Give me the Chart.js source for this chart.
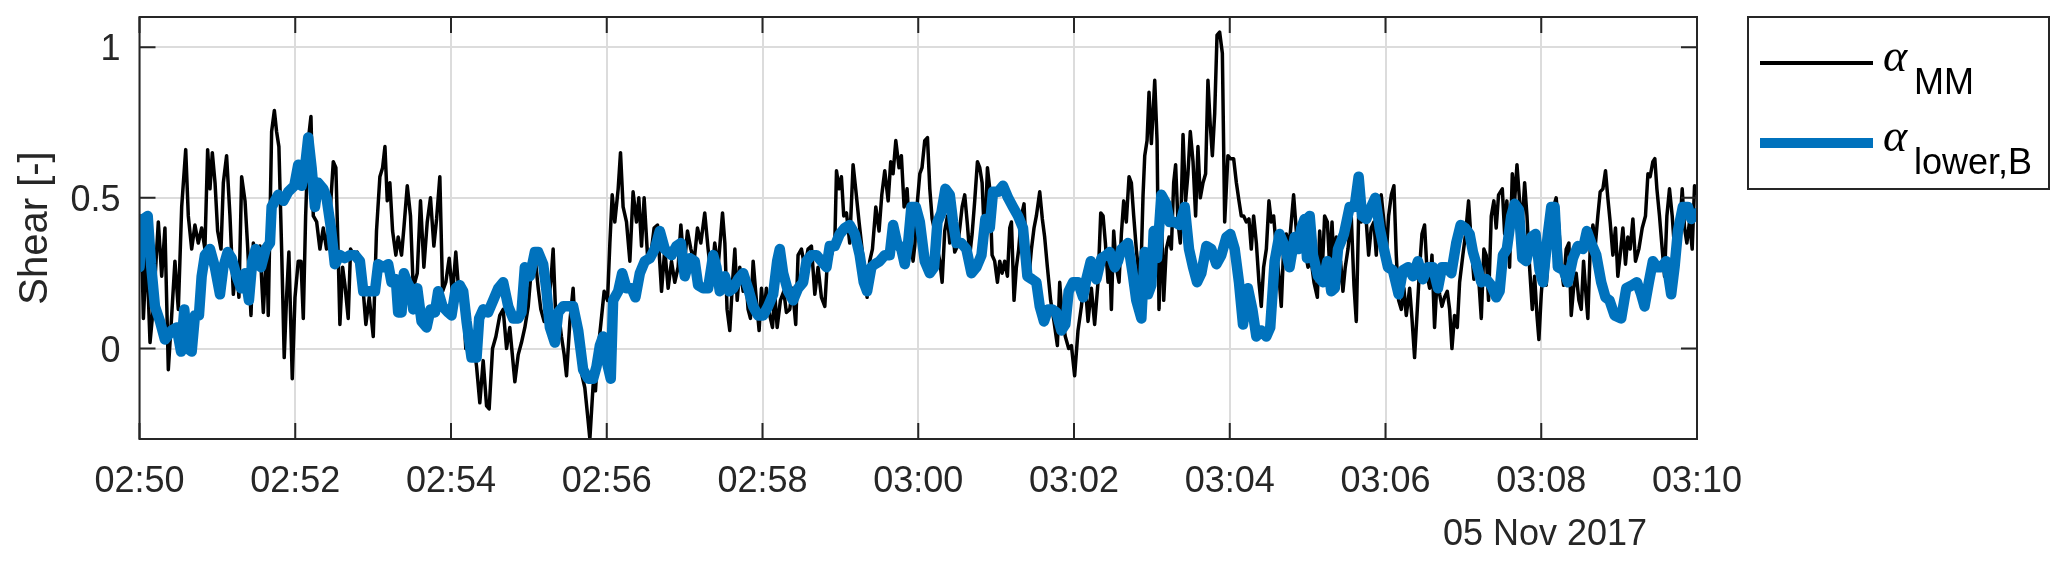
<!DOCTYPE html>
<html>
<head>
<meta charset="utf-8">
<script src="https://cdn.jsdelivr.net/npm/chart.js@4.4.1/dist/chart.umd.min.js"></script>
<style>
    html, body { margin: 0; padding: 0; background: #ffffff; }
    canvas { display: block; }
</style>
</head>
<body>
<canvas id="shearChart" width="2067" height="564"></canvas>
<script>
// time axis: seconds after 02:50:00 on 05 Nov 2017
const mmTime = [
    0, 1.2, 3.0, 5.5, 8.1, 10.7, 14.5, 17.1, 19.6, 22.2,
    24.8, 27.3, 29.9, 32.5, 35.6, 37.6, 40.2, 42.7, 45.3, 47.9,
    50.4, 52.5, 54.3, 56.1, 58.2, 60.2, 62.8, 64.6, 67.1, 69.7,
    72.3, 74.8, 76.6, 78.7, 81.3, 83.3, 85.9, 87.7, 90.2, 92.8,
    95.4, 98.0, 99.2, 101.8, 103.9, 105.6, 107.4, 109.5, 111.5, 113.3,
    115.1, 117.7, 119.8, 122.3, 124.4, 126.2, 128.0, 130.0, 132.1, 133.9,
    136.5, 139.0, 141.6, 144.1, 146.7, 149.3, 151.3, 153.1, 154.4, 156.5,
    158.3, 160.8, 162.6, 165.2, 167.8, 170.3, 172.4, 174.4, 177.0, 180.1,
    182.6, 185.2, 187.3, 189.1, 190.9, 192.9, 195.0, 197.5, 199.3, 201.9,
    203.7, 206.3, 208.8, 210.9, 214.0, 216.5, 219.1, 221.7, 224.2, 226.8,
    228.9, 231.4, 233.5, 236.0, 238.6, 241.2, 243.7, 246.3, 248.9, 251.4,
    254.0, 257.1, 259.7, 262.2, 264.8, 267.4, 269.4, 272.0, 274.6, 277.6,
    280.2, 282.8, 285.3, 289.2, 291.8, 294.3, 296.9, 299.5, 302.0, 304.6,
    307.2, 309.2, 311.8, 314.4, 316.9, 318.7, 320.5, 322.6, 325.1, 327.2,
    329.0, 331.6, 334.1, 335.4, 338.0, 340.5, 343.1, 345.2, 347.0, 349.5,
    351.3, 353.4, 355.4, 358.0, 360.6, 362.4, 364.2, 366.2, 368.8, 370.6,
    372.6, 375.2, 377.8, 380.3, 382.9, 384.7, 386.8, 388.8, 391.4, 393.9,
    396.5, 399.1, 402.2, 404.7, 407.3, 409.9, 412.4, 415.0, 417.1, 419.6,
    422.2, 424.8, 427.3, 429.9, 432.5, 435.5, 438.1, 440.7, 443.2, 445.8,
    449.2, 451.0, 452.7, 454.8, 456.9, 458.7, 460.5, 462.5, 465.1, 467.1,
    468.9, 470.7, 472.8, 475.3, 477.4, 479.2, 481.0, 483.0, 485.6, 487.7,
    489.5, 491.3, 493.8, 496.4, 498.4, 501.0, 503.1, 505.6, 507.4, 510.0,
    512.6, 515.1, 517.7, 520.3, 522.8, 525.4, 528.0, 530.5, 533.1, 535.7,
    537.0, 539.0, 540.8, 542.6, 544.7, 547.2, 549.8, 551.8, 554.4, 556.2,
    558.8, 560.6, 562.6, 564.7, 567.3, 569.8, 571.9, 574.2, 576.8, 578.8,
    580.6, 582.7, 585.2, 587.0, 589.1, 591.4, 593.4, 596.0, 597.3, 599.4,
    601.2, 602.9, 605.0, 607.1, 608.9, 610.7, 612.7, 614.8, 616.6, 618.4,
    620.4, 622.5, 624.3, 626.1, 628.1, 630.2, 632.0, 633.8, 635.8, 637.9,
    639.7, 641.5, 643.5, 645.6, 647.4, 649.2, 651.2, 653.3, 655.1, 656.9,
    658.9, 661.0, 662.8, 664.6, 666.6, 668.7, 670.5, 671.8, 673.8, 675.6,
    677.4, 679.5, 681.5, 683.3, 685.1, 687.2, 689.2, 691.0, 693.6, 695.6,
    697.4, 699.5, 702.0, 704.6, 707.2, 709.0, 710.8, 713.3, 715.9, 718.0,
    720.5, 723.1, 725.7, 728.2, 730.8, 733.4, 735.9, 738.5, 740.6, 742.4,
    744.2, 746.2, 747.5, 748.8, 750.6, 752.6, 754.7, 756.5, 758.3, 760.3,
    762.4, 764.2, 766.0, 768.0, 770.1, 771.9, 773.2, 774.5, 776.3, 777.8,
    779.6, 780.9, 782.2, 784.0, 785.5, 787.3, 789.1, 791.1, 793.2, 795.0,
    796.8, 798.3, 800.1, 801.9, 804.0, 806.0, 807.8, 809.6, 811.7, 813.7,
    815.5, 817.3, 819.4, 821.4, 823.2, 825.0, 826.6, 828.4, 830.2, 832.2,
    834.3, 836.1, 838.6, 840.4, 843.0, 845.1, 847.1, 848.9, 850.7, 852.8,
    854.8, 856.6, 858.4, 860.5, 862.5, 864.3, 866.1, 868.2, 870.2, 872.0,
    873.8, 875.9, 877.9, 879.7, 881.5, 883.6, 885.6, 887.4, 889.2, 891.3,
    893.3, 895.1, 896.9, 900.3, 902.8, 904.9, 907.5, 909.3, 911.1, 913.1,
    915.2, 917.0, 918.8, 920.3, 922.1, 923.4, 925.4, 927.2, 929.0, 931.1,
    933.6, 935.7, 937.5, 939.3, 941.3, 943.4, 945.2, 947.0, 949.0, 951.1,
    952.9, 954.7, 956.7, 958.8, 960.6, 962.4, 964.5, 966.5, 968.3, 970.1,
    972.2, 974.2, 976.0, 978.6, 980.4, 982.4, 984.5, 986.3, 988.1, 990.1,
    992.2, 994.0, 995.8, 997.8, 999.9, 1001.7, 1003.5, 1005.5, 1007.6, 1009.4,
    1011.2, 1013.2, 1015.3, 1017.1, 1019.6, 1021.7, 1024.0, 1026.1, 1028.1, 1029.9,
    1031.7, 1033.8, 1035.8, 1037.6, 1039.4, 1041.5, 1043.5, 1045.3, 1047.1, 1050.0,
    1051.8, 1053.5, 1055.6, 1057.7, 1059.5, 1061.3, 1063.3, 1065.4, 1067.2, 1069.0,
    1071.0, 1073.1, 1074.9, 1076.7, 1078.2, 1080.0, 1081.8, 1083.8, 1085.9, 1087.7,
    1089.5, 1091.5, 1093.6, 1095.4, 1097.2, 1099.2, 1101.3, 1103.1, 1104.9, 1106.9,
    1109.0, 1110.8, 1112.6, 1114.1, 1115.9, 1117.7, 1119.8, 1121.8, 1123.6, 1125.4,
    1127.5, 1129.5, 1131.3, 1133.1, 1135.2, 1137.2, 1139.0, 1140.8, 1142.9, 1144.9,
    1146.7, 1148.5, 1150.6, 1152.6, 1155.2, 1157.8, 1160.3, 1162.2, 1163.9, 1166.0,
    1167.5, 1169.1, 1171.1, 1173.2, 1175.0, 1176.8, 1178.8, 1180.9, 1182.7, 1184.5,
    1186.5, 1188.6, 1190.4, 1192.2, 1194.2, 1196.3, 1198.1, 1200.0
];
const mmShear = [
    0.27, 0.44, 0.10, 0.33, 0.02, 0.14, 0.42, 0.24, 0.40, -0.07,
    0.11, 0.29, 0.13, 0.47, 0.66, 0.44, 0.33, 0.41, 0.35, 0.40,
    0.33, 0.66, 0.53, 0.65, 0.55, 0.39, 0.33, 0.55, 0.64, 0.44,
    0.18, 0.28, 0.17, 0.57, 0.49, 0.34, 0.11, 0.35, 0.27, 0.34,
    0.12, 0.34, 0.11, 0.72, 0.79, 0.72, 0.67, 0.33, -0.03, 0.17,
    0.32, -0.10, 0.17, 0.29, 0.29, 0.10, 0.44, 0.69, 0.77, 0.44,
    0.42, 0.33, 0.40, 0.33, 0.44, 0.62, 0.60, 0.31, 0.08, 0.27,
    0.21, 0.10, 0.33, 0.31, 0.32, 0.23, 0.19, 0.08, 0.17, 0.04,
    0.39, 0.57, 0.60, 0.67, 0.49, 0.55, 0.39, 0.31, 0.37, 0.31,
    0.40, 0.54, 0.44, 0.20, 0.25, 0.49, 0.27, 0.42, 0.50, 0.34,
    0.43, 0.57, 0.19, 0.22, 0.30, 0.18, 0.32, 0.17, 0.20, 0.00,
    0.08, 0.03, -0.06, -0.18, -0.04, -0.19, -0.20, 0.00, 0.04, 0.11,
    0.13, 0.00, 0.07, -0.11, -0.02, 0.02, 0.07, 0.14, 0.27, 0.31,
    0.20, 0.13, 0.09, 0.13, 0.22, 0.33, 0.13, 0.13, 0.04, -0.02,
    -0.09, 0.09, 0.20, 0.09, 0.09, -0.08, -0.13, -0.22, -0.30, -0.12,
    -0.14, 0.00, 0.08, 0.19, 0.16, 0.35, 0.51, 0.42, 0.53, 0.65,
    0.47, 0.42, 0.29, 0.52, 0.42, 0.50, 0.34, 0.50, 0.31, 0.31,
    0.40, 0.41, 0.19, 0.33, 0.20, 0.29, 0.22, 0.27, 0.41, 0.27,
    0.39, 0.33, 0.29, 0.40, 0.35, 0.45, 0.33, 0.23, 0.35, 0.27,
    0.45, 0.35, 0.13, 0.06, 0.22, 0.33, 0.16, 0.27, 0.19, 0.24,
    0.13, 0.10, 0.29, 0.16, 0.06, 0.20, 0.11, 0.20, 0.11, 0.07,
    0.18, 0.07, 0.16, 0.19, 0.12, 0.13, 0.20, 0.08, 0.31, 0.33,
    0.27, 0.33, 0.34, 0.18, 0.27, 0.17, 0.14, 0.33, 0.31, 0.35,
    0.59, 0.53, 0.57, 0.44, 0.45, 0.35, 0.61, 0.53, 0.42, 0.35,
    0.24, 0.17, 0.29, 0.33, 0.47, 0.39, 0.51, 0.59, 0.49, 0.62,
    0.58, 0.69, 0.60, 0.64, 0.47, 0.53, 0.38, 0.29, 0.34, 0.49,
    0.58, 0.60, 0.69, 0.70, 0.53, 0.43, 0.39, 0.33, 0.29, 0.22,
    0.39, 0.44, 0.35, 0.42, 0.32, 0.34, 0.40, 0.47, 0.51, 0.41,
    0.31, 0.38, 0.49, 0.62, 0.60, 0.55, 0.35, 0.60, 0.53, 0.31,
    0.29, 0.22, 0.29, 0.25, 0.29, 0.24, 0.40, 0.42, 0.16, 0.27,
    0.33, 0.44, 0.48, 0.31, 0.23, 0.33, 0.40, 0.44, 0.52, 0.43,
    0.37, 0.27, 0.16, 0.09, 0.01, 0.22, 0.11, 0.04, 0.00, 0.01,
    -0.09, 0.06, 0.14, 0.24, 0.09, 0.20, 0.08, 0.22, 0.45, 0.44,
    0.35, 0.22, 0.31, 0.13, 0.39, 0.27, 0.22, 0.38, 0.49, 0.42,
    0.57, 0.55, 0.44, 0.33, 0.24, 0.31, 0.51, 0.64, 0.69, 0.85,
    0.68, 0.78, 0.89, 0.69, 0.13, 0.44, 0.16, 0.33, 0.37, 0.33,
    0.55, 0.61, 0.42, 0.35, 0.71, 0.49, 0.58, 0.72, 0.62, 0.44,
    0.67, 0.50, 0.55, 0.58, 0.89, 0.74, 0.64, 0.78, 1.04, 1.05,
    0.98, 0.42, 0.64, 0.63, 0.63, 0.55, 0.49, 0.44, 0.44, 0.42,
    0.43, 0.33, 0.44, 0.35, 0.22, 0.14, 0.27, 0.33, 0.49, 0.42,
    0.44, 0.33, 0.24, 0.14, 0.33, 0.38, 0.33, 0.42, 0.51, 0.39,
    0.33, 0.42, 0.35, 0.27, 0.29, 0.22, 0.17, 0.39, 0.24, 0.44,
    0.42, 0.27, 0.42, 0.27, 0.37, 0.20, 0.29, 0.19, 0.27, 0.33,
    0.44, 0.21, 0.09, 0.44, 0.42, 0.45, 0.42, 0.31, 0.40, 0.42,
    0.31, 0.49, 0.51, 0.42, 0.31, 0.44, 0.51, 0.54, 0.31, 0.16,
    0.13, 0.20, 0.11, 0.20, 0.10, -0.03, 0.13, 0.27, 0.38, 0.41,
    0.24, 0.20, 0.31, 0.07, 0.24, 0.18, 0.14, 0.17, 0.19, 0.13,
    0.00, 0.11, 0.07, 0.22, 0.31, 0.38, 0.49, 0.35, 0.23, 0.31,
    0.24, 0.10, 0.33, 0.31, 0.16, 0.44, 0.49, 0.40, 0.51, 0.53,
    0.38, 0.49, 0.27, 0.58, 0.49, 0.61, 0.49, 0.42, 0.55, 0.44,
    0.27, 0.13, 0.24, 0.11, 0.03, 0.18, 0.28, 0.21, 0.33, 0.38,
    0.47, 0.50, 0.40, 0.27, 0.21, 0.33, 0.35, 0.11, 0.20, 0.25,
    0.16, 0.13, 0.29, 0.20, 0.10, 0.33, 0.41, 0.35, 0.44, 0.52,
    0.53, 0.59, 0.50, 0.42, 0.31, 0.40, 0.24, 0.31, 0.40, 0.28,
    0.37, 0.33, 0.43, 0.29, 0.33, 0.40, 0.44, 0.58, 0.57, 0.62,
    0.63, 0.53, 0.44, 0.33, 0.24, 0.44, 0.53, 0.44, 0.33, 0.27,
    0.38, 0.53, 0.40, 0.35, 0.42, 0.33, 0.54, 0.51
];

const lowerTime = [
    0, 1.5, 3.0, 6.3, 8.9, 11.9, 15.8, 19.6, 24.8, 28.6,
    32.0, 34.5, 37.1, 40.2, 42.7, 45.8, 47.9, 50.4, 54.3, 58.1,
    62.0, 64.6, 67.9, 71.0, 74.8, 78.2, 81.3, 84.3, 86.9, 89.5,
    93.6, 97.2, 100.5, 101.8, 106.9, 110.8, 114.6, 119.3, 122.3, 124.9,
    128.0, 130.0, 132.6, 135.2, 137.7, 141.6, 144.1, 147.5, 150.5, 154.4,
    158.3, 162.1, 166.0, 169.8, 172.4, 176.2, 181.4, 183.9, 187.8, 191.6,
    194.2, 197.5, 199.3, 201.9, 203.7, 206.3, 208.8, 210.9, 214.0, 217.3,
    221.2, 224.2, 227.6, 230.1, 233.5, 237.8, 240.4, 243.7, 246.8, 249.4,
    252.0, 255.8, 259.7, 261.7, 264.8, 268.6, 272.5, 276.4, 280.2, 284.1,
    287.9, 291.8, 294.3, 296.9, 300.8, 304.6, 307.2, 311.0, 313.6, 316.2,
    320.0, 322.6, 326.4, 330.3, 334.1, 338.0, 341.8, 345.7, 349.5, 352.1,
    354.7, 357.2, 359.8, 363.1, 364.9, 368.8, 371.9, 375.2, 379.1, 382.1,
    385.5, 389.3, 393.2, 397.0, 400.9, 404.7, 409.9, 413.7, 417.1, 420.1,
    424.0, 427.8, 430.4, 434.3, 438.1, 442.0, 444.5, 447.1, 451.0, 454.3,
    457.4, 461.2, 465.1, 468.9, 472.8, 476.6, 480.5, 484.3, 488.2, 491.3,
    493.3, 495.9, 499.7, 503.6, 507.4, 511.3, 513.9, 517.7, 521.6, 525.4,
    529.3, 531.8, 535.7, 539.5, 543.4, 547.2, 551.1, 554.9, 558.0, 560.6,
    563.9, 566.5, 570.3, 574.2, 578.0, 580.6, 583.7, 587.0, 589.6, 592.2,
    594.7, 598.1, 601.2, 605.0, 608.9, 612.2, 614.8, 617.8, 620.9, 624.3,
    626.8, 629.4, 633.2, 637.1, 641.0, 644.8, 648.7, 651.7, 655.1, 657.6,
    661.5, 665.3, 669.2, 673.0, 676.9, 680.7, 684.1, 687.7, 691.0, 693.6,
    696.9, 700.0, 703.1, 706.4, 710.3, 713.3, 715.9, 719.3, 723.1, 727.0,
    729.5, 732.9, 737.2, 741.1, 744.9, 747.5, 751.4, 753.9, 756.5, 761.6,
    765.5, 768.0, 771.9, 774.5, 777.0, 779.6, 781.4, 784.0, 787.3, 791.1,
    793.7, 797.6, 801.4, 805.3, 808.6, 811.7, 814.8, 818.1, 822.0, 825.8,
    829.7, 833.5, 837.4, 840.4, 843.8, 847.1, 850.2, 854.0, 857.4, 860.5,
    864.3, 868.2, 871.2, 874.6, 878.4, 882.3, 886.1, 890.0, 892.6, 895.1,
    897.7, 899.5, 901.6, 904.1, 908.0, 911.8, 915.2, 918.2, 920.8, 923.4,
    928.0, 932.4, 936.2, 939.3, 941.9, 945.2, 949.0, 952.1, 955.5, 958.8,
    961.9, 965.7, 970.1, 973.4, 977.3, 981.1, 985.0, 988.8, 992.7, 996.5,
    1000.4, 1003.5, 1006.8, 1010.7, 1014.5, 1017.9, 1021.4, 1024.8, 1027.4, 1030.7,
    1033.8, 1037.6, 1041.5, 1045.3, 1047.9, 1050.5, 1053.5, 1056.9, 1059.5, 1062.8,
    1065.4, 1068.4, 1072.3, 1075.6, 1078.7, 1081.3, 1085.1, 1087.7, 1090.3, 1092.8,
    1097.2, 1100.5, 1104.4, 1108.2, 1112.1, 1115.2, 1118.5, 1122.4, 1126.2, 1129.5,
    1132.6, 1136.5, 1141.6, 1145.5, 1150.1, 1153.7, 1157.0, 1159.6, 1162.9, 1166.0,
    1169.1, 1172.4, 1176.3, 1180.1, 1182.7, 1185.3, 1189.1, 1193.0, 1195.6, 1200.0
];
const lowerShear = [
    0.27, 0.40, 0.43, 0.44, 0.28, 0.14, 0.09, 0.03, 0.06, 0.07,
    -0.01, 0.13, 0.00, -0.01, 0.11, 0.11, 0.24, 0.31, 0.33, 0.27,
    0.18, 0.27, 0.32, 0.30, 0.24, 0.20, 0.25, 0.16, 0.29, 0.33,
    0.27, 0.33, 0.35, 0.47, 0.51, 0.49, 0.52, 0.54, 0.61, 0.54,
    0.62, 0.70, 0.60, 0.47, 0.55, 0.53, 0.50, 0.40, 0.28, 0.31,
    0.30, 0.31, 0.31, 0.29, 0.19, 0.19, 0.19, 0.28, 0.27, 0.28,
    0.22, 0.23, 0.12, 0.12, 0.25, 0.22, 0.20, 0.13, 0.20, 0.09,
    0.07, 0.13, 0.12, 0.19, 0.14, 0.12, 0.11, 0.20, 0.21, 0.19,
    0.09, -0.03, -0.03, 0.10, 0.13, 0.12, 0.16, 0.20, 0.22, 0.14,
    0.10, 0.10, 0.12, 0.27, 0.24, 0.32, 0.32, 0.28, 0.19, 0.07,
    0.02, 0.12, 0.14, 0.14, 0.14, 0.06, -0.07, -0.10, -0.10, -0.06,
    0.01, 0.04, -0.04, -0.10, 0.16, 0.19, 0.25, 0.20, 0.20, 0.17,
    0.25, 0.29, 0.30, 0.33, 0.39, 0.33, 0.31, 0.34, 0.35, 0.24,
    0.30, 0.29, 0.21, 0.20, 0.20, 0.31, 0.27, 0.19, 0.24, 0.19,
    0.20, 0.23, 0.25, 0.20, 0.14, 0.11, 0.11, 0.14, 0.18, 0.29,
    0.33, 0.25, 0.19, 0.16, 0.20, 0.22, 0.29, 0.31, 0.31, 0.29,
    0.27, 0.34, 0.34, 0.38, 0.40, 0.41, 0.38, 0.31, 0.22, 0.19,
    0.27, 0.28, 0.29, 0.31, 0.31, 0.41, 0.35, 0.33, 0.28, 0.35,
    0.47, 0.47, 0.42, 0.29, 0.25, 0.27, 0.42, 0.45, 0.53, 0.51,
    0.42, 0.35, 0.35, 0.33, 0.25, 0.27, 0.31, 0.43, 0.40, 0.52,
    0.52, 0.54, 0.50, 0.47, 0.44, 0.40, 0.24, 0.23, 0.22, 0.14,
    0.09, 0.13, 0.13, 0.12, 0.06, 0.08, 0.19, 0.22, 0.22, 0.17,
    0.23, 0.29, 0.23, 0.30, 0.31, 0.32, 0.27, 0.29, 0.33, 0.35,
    0.24, 0.16, 0.10, 0.32, 0.18, 0.21, 0.39, 0.30, 0.51, 0.48,
    0.42, 0.42, 0.41, 0.47, 0.33, 0.27, 0.22, 0.25, 0.34, 0.33,
    0.28, 0.31, 0.37, 0.38, 0.33, 0.22, 0.08, 0.20, 0.13, 0.04,
    0.06, 0.04, 0.07, 0.29, 0.38, 0.34, 0.27, 0.37, 0.33, 0.40,
    0.43, 0.30, 0.44, 0.31, 0.24, 0.22, 0.29, 0.19, 0.20, 0.33,
    0.38, 0.47, 0.47, 0.57, 0.44, 0.43, 0.47, 0.50, 0.40, 0.33,
    0.27, 0.26, 0.18, 0.26, 0.27, 0.24, 0.29, 0.23, 0.27, 0.27,
    0.20, 0.27, 0.27, 0.25, 0.35, 0.41, 0.40, 0.38, 0.32, 0.27,
    0.22, 0.23, 0.21, 0.17, 0.19, 0.31, 0.33, 0.44, 0.48, 0.46,
    0.30, 0.29, 0.37, 0.38, 0.26, 0.22, 0.38, 0.47, 0.47, 0.27,
    0.26, 0.22, 0.30, 0.34, 0.33, 0.39, 0.35, 0.31, 0.22, 0.17,
    0.16, 0.11, 0.10, 0.20, 0.21, 0.22, 0.18, 0.14, 0.22, 0.29,
    0.27, 0.27, 0.29, 0.18, 0.27, 0.39, 0.47, 0.47, 0.43, 0.45
];

const timeTicks = [0, 120, 240, 360, 480, 600, 720, 840, 960, 1080, 1200];
const timeLabels = ['02:50', '02:52', '02:54', '02:56', '02:58', '03:00', '03:02', '03:04', '03:06', '03:08', '03:10'];
const shearTicks = [0, 0.5, 1];
const shearLabels = ['0', '0.5', '1'];
const dateLabel = '05 Nov 2017';
const yTitle = 'Shear [-]';

const axisColor = '#262626';
const gridColor = '#dcdcdc';
const mmColor = '#000000';
const lowerColor = '#0072BD';
const tickLen = 16;
const sans = '"Liberation Sans", Arial, Helvetica, sans-serif';

// MATLAB style box: inward ticks on all four sides, labels drawn by hand
const matlabAxes = {
    id: 'matlabAxes',
    afterDatasetsDraw(chart) {
        const ctx = chart.ctx;
        const area = chart.chartArea;
        const xs = chart.scales.x;
        const ys = chart.scales.y;

        ctx.save();
        ctx.strokeStyle = axisColor;
        ctx.lineWidth = 2;
        ctx.beginPath();
        timeTicks.forEach(v => {
            const px = xs.getPixelForValue(v);
            ctx.moveTo(px, area.bottom);
            ctx.lineTo(px, area.bottom - tickLen);
            ctx.moveTo(px, area.top);
            ctx.lineTo(px, area.top + tickLen);
        });
        shearTicks.forEach(v => {
            const py = ys.getPixelForValue(v);
            ctx.moveTo(area.left, py);
            ctx.lineTo(area.left + tickLen, py);
            ctx.moveTo(area.right, py);
            ctx.lineTo(area.right - tickLen, py);
        });
        ctx.stroke();
        ctx.strokeRect(area.left, area.top, area.right - area.left, area.bottom - area.top);

        ctx.fillStyle = axisColor;
        ctx.font = '36px ' + sans;
        ctx.textBaseline = 'alphabetic';
        ctx.textAlign = 'center';
        timeTicks.forEach((v, i) => {
            ctx.fillText(timeLabels[i], xs.getPixelForValue(v), area.bottom + 53);
        });
        ctx.fillText(dateLabel, 1545, area.bottom + 106);

        ctx.textAlign = 'right';
        shearTicks.forEach((v, i) => {
            ctx.fillText(shearLabels[i], area.left - 19, ys.getPixelForValue(v) + 13);
        });

        ctx.font = '40px ' + sans;
        ctx.textAlign = 'center';
        ctx.translate(47, (area.top + area.bottom) / 2);
        ctx.rotate(-Math.PI / 2);
        ctx.fillText(yTitle, 0, 0);
        ctx.restore();
    }
};

const legendBox = {
    id: 'legendBox',
    afterDraw(chart) {
        const ctx = chart.ctx;
        const box = { x: 1748, y: 17, w: 301, h: 172 };
        ctx.save();
        ctx.fillStyle = '#ffffff';
        ctx.fillRect(box.x, box.y, box.w, box.h);
        ctx.strokeStyle = axisColor;
        ctx.lineWidth = 2;
        ctx.strokeRect(box.x, box.y, box.w, box.h);

        const rows = [
            { color: mmColor, width: 4, y: 63, sub: 'MM' },
            { color: lowerColor, width: 10, y: 143, sub: 'lower,B' }
        ];
        rows.forEach(r => {
            ctx.strokeStyle = r.color;
            ctx.lineWidth = r.width;
            ctx.beginPath();
            ctx.moveTo(1760, r.y);
            ctx.lineTo(1873, r.y);
            ctx.stroke();

            ctx.fillStyle = '#000000';
            ctx.textAlign = 'left';
            ctx.textBaseline = 'alphabetic';
            ctx.font = 'italic 46px "Liberation Serif", "DejaVu Serif", serif';
            ctx.fillText('\u03b1', 1883, r.y + 8);
            ctx.font = '36px ' + sans;
            ctx.fillText(r.sub, 1914, r.y + 31);
        });
        ctx.restore();
    }
};

new Chart(document.getElementById('shearChart'), {
    type: 'line',
    data: {
        datasets: [
            {
                label: 'alpha MM',
                data: mmTime.map((t, i) => ({ x: t, y: mmShear[i] })),
                borderColor: mmColor,
                borderWidth: 3.5,
                borderJoinStyle: 'round',
                pointRadius: 0,
                fill: false,
                order: 2,
                clip: 0
            },
            {
                label: 'alpha lower,B',
                data: lowerTime.map((t, i) => ({ x: t, y: lowerShear[i] })),
                borderColor: lowerColor,
                borderWidth: 10.5,
                borderJoinStyle: 'round',
                borderCapStyle: 'round',
                pointRadius: 0,
                fill: false,
                order: 1,
                clip: 0
            }
        ]
    },
    options: {
        responsive: false,
        animation: false,
        devicePixelRatio: 1,
        layout: { padding: { top: 17, right: 370, bottom: 0, left: 0 } },
        plugins: {
            legend: { display: false },
            tooltip: { enabled: false }
        },
        scales: {
            x: {
                type: 'linear',
                min: 0,
                max: 1200,
                afterBuildTicks: scale => { scale.ticks = timeTicks.map(v => ({ value: v })); },
                afterFit: scale => { scale.height = 125; },
                ticks: { display: false },
                grid: { color: gridColor, lineWidth: 2, drawTicks: false },
                border: { display: false }
            },
            y: {
                min: -0.3,
                max: 1.1,
                afterBuildTicks: scale => { scale.ticks = shearTicks.map(v => ({ value: v })); },
                afterFit: scale => { scale.width = 139.5; },
                ticks: { display: false },
                grid: { color: gridColor, lineWidth: 2, drawTicks: false },
                border: { display: false }
            }
        }
    },
    plugins: [matlabAxes, legendBox]
});
</script>
</body>
</html>
